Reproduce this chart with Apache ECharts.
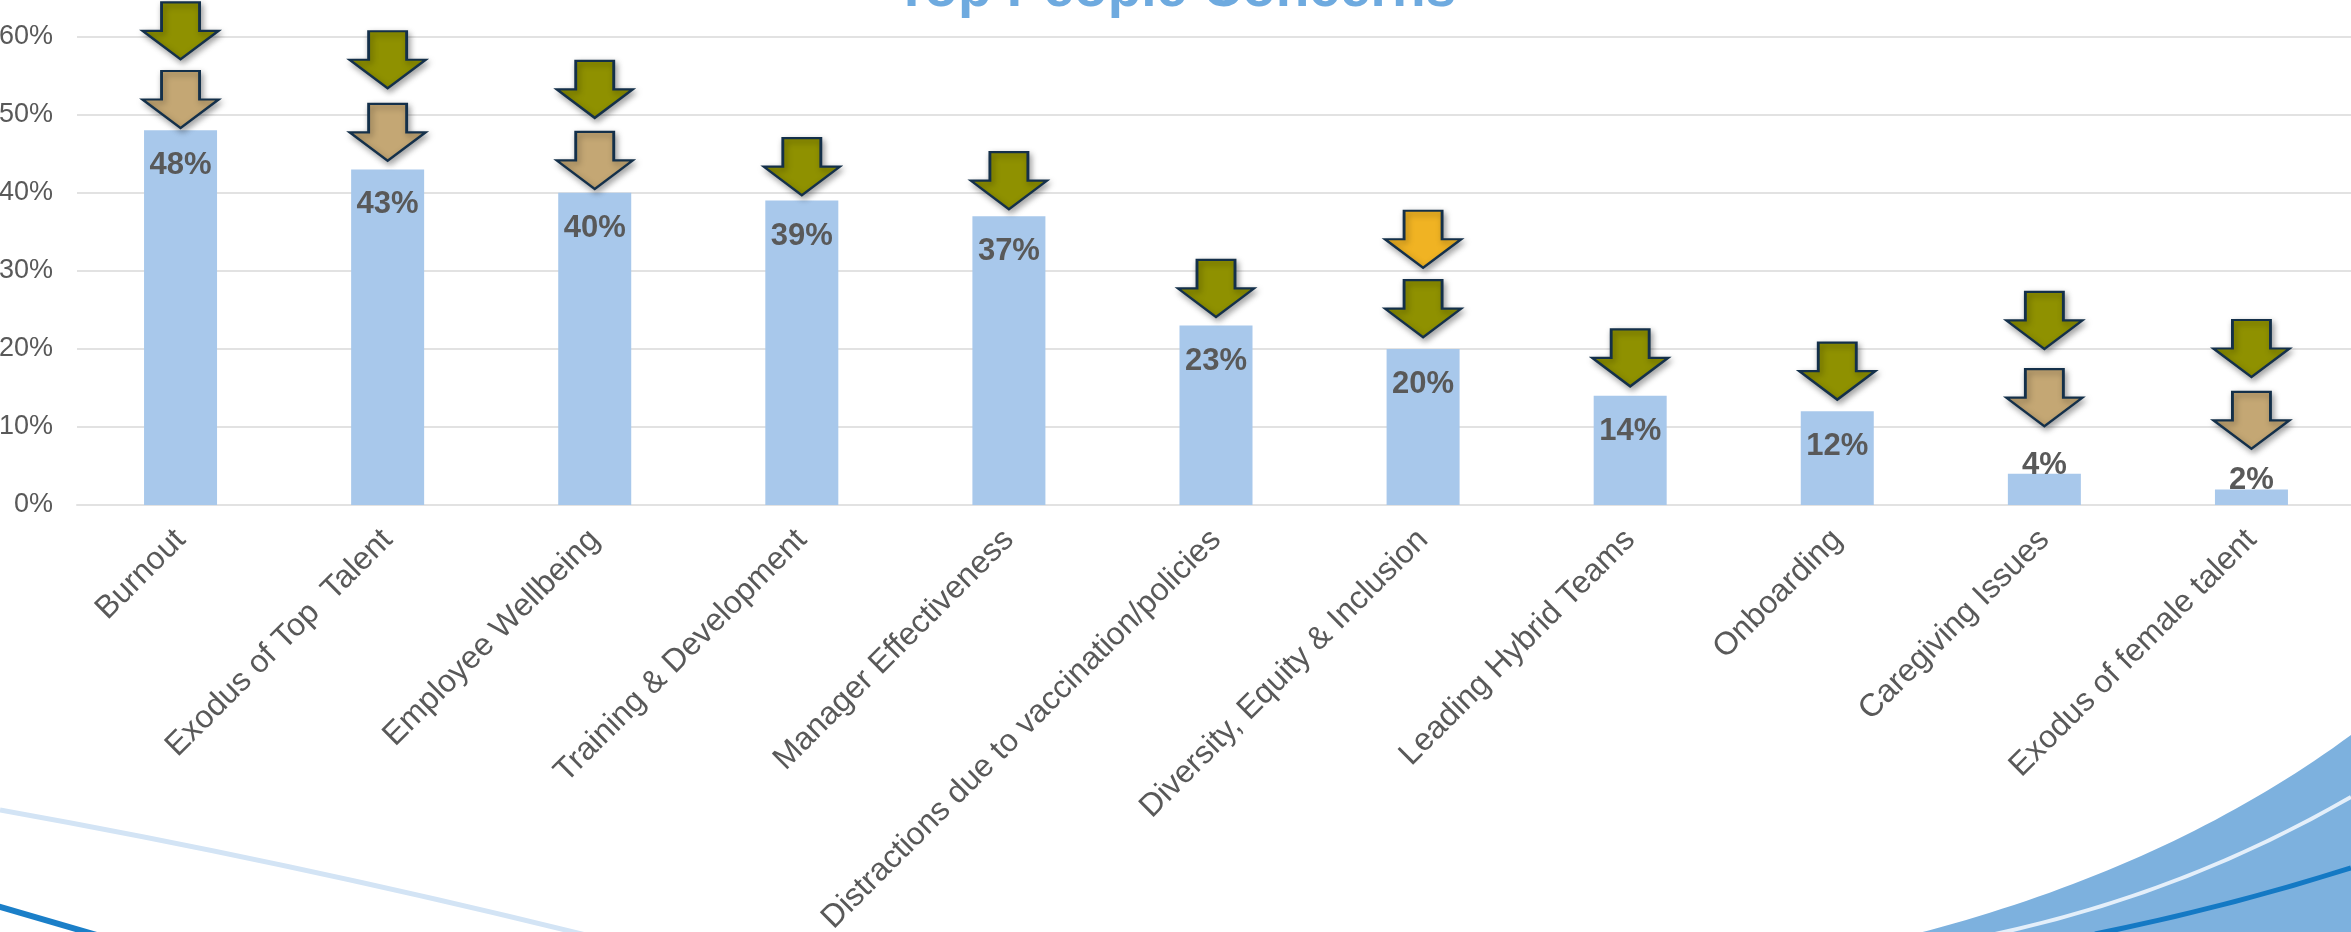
<!DOCTYPE html>
<html>
<head>
<meta charset="utf-8">
<title>Top People Concerns</title>
<script src="https://cdn.jsdelivr.net/npm/echarts@6/dist/echarts.min.js"></script>
<style>
  html, body { margin: 0; padding: 0; background: #fff; }
  #chart { width: 2351px; height: 932px; }
</style>
</head>
<body>
<div id="chart"></div>
<script>
// categories and bar values (%)
const categories = [
  'Burnout', 'Exodus of Top  Talent', 'Employee Wellbeing', 'Training & Development',
  'Manager Effectiveness', 'Distractions due to vaccination/policies',
  'Diversity, Equity & Inclusion', 'Leading Hybrid Teams', 'Onboarding',
  'Caregiving Issues', 'Exodus of female talent'
]
const concerns = [48, 43, 40, 39, 37, 23, 20, 14, 12, 4, 2]

// arrow markers, value = where the arrow tip points to (%)
const oliveArrows = [57.1, 53.4, 49.6, 39.7, 37.9, 24.1, 21.5, 15.2, 13.5, 20.0, 16.4]
const tanArrows = [48.3, 44.1, 40.5, null, null, null, null, null, null, 10.1, 7.2]
const goldArrows = [null, null, null, null, null, null, 30.4, null, null, null, null]

const yTicks = [0, 10, 20, 30, 40, 50, 60]

const FONT = '"Liberation Sans", Arial, sans-serif'
const ARROW = 'path://M19,0 L57,0 L57,28 L76,28 L38,56 L0,28 L19,28 Z'

// sample a quadratic curve into points (background swoosh)
function quad(p0, c, p2, n) {
  const pts = []
  for (let i = 0; i <= n; i++) {
    const t = i / n, u = 1 - t
    pts.push([u * u * p0[0] + 2 * u * t * c[0] + t * t * p2[0],
              u * u * p0[1] + 2 * u * t * c[1] + t * t * p2[1]])
  }
  return pts
}

function arrowSeries(name, data, color) {
  return {
    name,
    type: 'scatter',
    data,
    clip: false,
    z: 5,
    symbol: ARROW,
    symbolSize: [76, 57],
    symbolOffset: [0, '-50%'],
    itemStyle: {
      color,
      borderColor: '#14304A',
      borderWidth: 2.5,
      opacity: 1,
      shadowBlur: 6,
      shadowOffsetX: 2,
      shadowOffsetY: 3,
      shadowColor: 'rgba(0,0,0,0.35)'
    },
    emphasis: { disabled: true }
  }
}

const blueFill = quad([1915, 934], [2170, 868], [2351, 735], 40)
blueFill.push([2360, 934])

const myChart = echarts.init(document.getElementById('chart'))
myChart.setOption({
  animation: false,
  backgroundColor: '#fff',
  textStyle: { fontFamily: FONT },
  title: {
    text: 'Top People Concerns',
    left: 'center',
    top: -42,
    textStyle: { fontSize: 55, fontWeight: 'bold', color: '#6EAADF', fontFamily: FONT }
  },
  graphic: [
    { type: 'polygon', z: -10, shape: { points: blueFill }, style: { fill: '#7DB1DE' } },
    { type: 'bezierCurve', z: -9, shape: { x1: 1995, y1: 934, cpx1: 2185, cpy1: 893, x2: 2351, y2: 797 },
      style: { stroke: '#E4EFFA', lineWidth: 4, fill: null } },
    { type: 'bezierCurve', z: -9, shape: { x1: 2095, y1: 934, cpx1: 2225, cpy1: 908, x2: 2351, y2: 868 },
      style: { stroke: '#1479C4', lineWidth: 5, fill: null } },
    { type: 'bezierCurve', z: -9, shape: { x1: 0, y1: 810, cpx1: 290, cpy1: 862, x2: 590, y2: 936 },
      style: { stroke: '#D3E4F5', lineWidth: 5, fill: null } },
    { type: 'line', z: -9, shape: { x1: -10, y1: 904, x2: 100, y2: 936 },
      style: { stroke: '#1B7FC8', lineWidth: 6 } }
  ],
  grid: { left: 77, width: 2278, top: 36.7, bottom: 427, containLabel: false, outerBoundsMode: 'none' },
  xAxis: {
    type: 'category',
    data: categories,
    axisTick: { show: false },
    axisLine: { show: true, lineStyle: { color: '#E2E2E2', width: 2 } },
    axisLabel: {
      interval: 0,
      rotate: 45,
      margin: 30,
      fontSize: 32,
      color: '#595959',
      fontFamily: FONT
    }
  },
  yAxis: {
    type: 'value',
    min: yTicks[0],
    max: yTicks[yTicks.length - 1],
    interval: 10,
    axisLine: { show: false },
    axisTick: { show: false },
    splitLine: { lineStyle: { color: '#E2E2E2', width: 2 } },
    axisLabel: {
      formatter: '{value}%',
      margin: 24,
      fontSize: 27,
      color: '#595959',
      fontFamily: FONT
    }
  },
  series: [
    {
      name: 'Concerns',
      type: 'bar',
      data: concerns.map(v => ({
        value: v,
        label: v < 10 ? { position: 'top', distance: -7 } : undefined
      })),
      barWidth: 73,
      z: 2,
      itemStyle: { color: '#A8C8EB' },
      label: {
        show: true,
        position: 'insideTop',
        distance: 20,
        formatter: '{c}%',
        fontSize: 31,
        fontWeight: 'bold',
        color: '#595959',
        fontFamily: FONT
      },
      emphasis: { disabled: true }
    },
    arrowSeries('olive', oliveArrows, '#8F9100'),
    arrowSeries('tan', tanArrows, '#C4A774'),
    arrowSeries('gold', goldArrows, '#F0B323')
  ]
})
</script>
</body>
</html>
